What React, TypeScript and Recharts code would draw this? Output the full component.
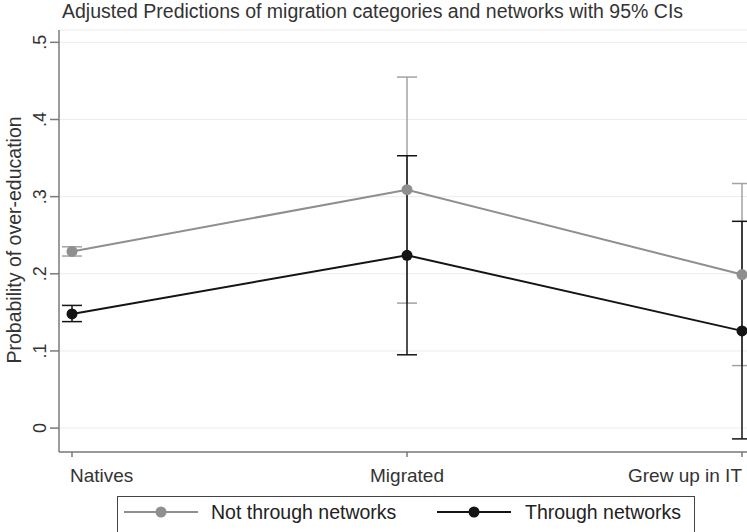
import React from 'react';
import { LineChart, Line, XAxis, YAxis, CartesianGrid, ErrorBar } from 'recharts';

const categories = ['Natives', 'Migrated', 'Grew up in IT'];

// point estimates and 95% CI bounds
const notThrough = [0.229, 0.309, 0.199];
const notThroughLo = [0.223, 0.162, 0.081];
const notThroughHi = [0.235, 0.455, 0.317];

const through = [0.148, 0.224, 0.126];
const throughLo = [0.138, 0.095, -0.014];
const throughHi = [0.159, 0.353, 0.268];

const yTicks = [0, 0.1, 0.2, 0.3, 0.4, 0.5];

const GRAY = '#8f8f8f';
const GRAY_CI = '#a3a3a3';
const BLACK = '#141414';
const AXIS = '#7a7a7a';
const FONT = 'Arial, "Liberation Sans", sans-serif';

const data = categories.map((cat, i) => ({
  cat,
  notThrough: notThrough[i],
  notThroughErr: [notThrough[i] - notThroughLo[i], notThroughHi[i] - notThrough[i]],
  through: through[i],
  throughErr: [through[i] - throughLo[i], throughHi[i] - through[i]],
}));

const fmtTick = (v: number) => (v === 0 ? '0' : String(v).replace(/^0/, ''));

function YTick(props: any) {
  const { x, y, payload } = props;
  const bx = x - 4;
  return (
    <text x={bx} y={y} transform={`rotate(-90, ${bx}, ${y})`} textAnchor="middle" fontSize={18} fill="#333" fontFamily={FONT}>
      {fmtTick(payload.value)}
    </text>
  );
}

function XTick(props: any) {
  const { x, y, payload, index } = props;
  const anchor = index === 0 ? 'start' : index === categories.length - 1 ? 'end' : 'middle';
  const dx = index === 0 ? -2 : 0;
  return (
    <text x={x + dx} y={y + 25} textAnchor={anchor} fontSize={19} fill="#333" fontFamily={FONT}>
      {payload.value}
    </text>
  );
}

function LegendItem({ color, label, left, textLeft }: { color: string; label: string; left: number; textLeft: number }) {
  return (
    <>
      <svg style={{ position: 'absolute', left, top: 8 }} width={75} height={14}>
        <line x1={0} y1={7} x2={74} y2={7} stroke={color} strokeWidth={2} />
        <circle cx={37} cy={7} r={5.5} fill={color} />
      </svg>
      <span style={{ position: 'absolute', left: textLeft, top: 4, fontSize: 19.5, color: '#222', fontFamily: FONT, whiteSpace: 'nowrap' }}>
        {label}
      </span>
    </>
  );
}

export default function App() {
  return (
    <div style={{ position: 'relative', width: 747, height: 532, overflow: 'hidden', background: '#fff' }}>
      <style>{'body{margin:0}'}</style>
      <div style={{ position: 'absolute', left: 62, top: 0, fontSize: 19.5, color: '#333', fontFamily: FONT, whiteSpace: 'nowrap' }}>
        Adjusted Predictions of migration categories and networks with 95% CIs
      </div>
      <svg style={{ position: 'absolute', left: 0, top: 0 }} width={30} height={532}>
        <text x={21} y={240} transform="rotate(-90, 21, 240)" textAnchor="middle" fontSize={19.5} fill="#333" fontFamily={FONT}>
          Probability of over-education
        </text>
      </svg>
      <div style={{ position: 'absolute', left: 0, top: 0 }}>
        <LineChart width={760} height={532} data={data} margin={{ top: 30, right: 5, bottom: 0, left: 0 }}>
          <CartesianGrid horizontal vertical={false} stroke="#ececec" strokeWidth={1} />
          <XAxis
            dataKey="cat"
            padding={{ left: 13, right: 13 }}
            height={80}
            axisLine={{ stroke: AXIS, strokeWidth: 1.5 }}
            tickLine={{ stroke: AXIS, strokeWidth: 1.5 }}
            tickSize={5}
            tickMargin={0}
            tick={<XTick />}
            interval={0}
          />
          <YAxis
            type="number"
            domain={[-0.031, 0.516]}
            ticks={yTicks}
            width={59}
            axisLine={{ stroke: AXIS, strokeWidth: 1.5 }}
            tickLine={{ stroke: AXIS, strokeWidth: 1.5 }}
            tickSize={9}
            tickMargin={0}
            tick={<YTick />}
            allowDataOverflow
          />
          {/* confidence intervals first, so markers and lines sit on top */}
          <Line dataKey="notThrough" stroke="transparent" dot={false} activeDot={false} legendType="none" isAnimationActive={false}>
            <ErrorBar dataKey="notThroughErr" width={10} stroke={GRAY_CI} strokeWidth={1.5} isAnimationActive={false} />
          </Line>
          <Line dataKey="through" stroke="transparent" dot={false} activeDot={false} legendType="none" isAnimationActive={false}>
            <ErrorBar dataKey="throughErr" width={10} stroke={BLACK} strokeWidth={1.5} isAnimationActive={false} />
          </Line>
          <Line
            dataKey="notThrough"
            stroke={GRAY}
            strokeWidth={2}
            dot={{ r: 5.5, fill: GRAY, stroke: GRAY, strokeWidth: 0 }}
            activeDot={false}
            isAnimationActive={false}
          />
          <Line
            dataKey="through"
            stroke={BLACK}
            strokeWidth={2}
            dot={{ r: 5.5, fill: BLACK, stroke: BLACK, strokeWidth: 0 }}
            activeDot={false}
            isAnimationActive={false}
          />
        </LineChart>
      </div>
      <div style={{ position: 'absolute', left: 117, top: 496, width: 578, height: 50, border: '1.5px solid #444', boxSizing: 'border-box' }}>
        <LegendItem color={GRAY} label="Not through networks" left={6} textLeft={93} />
        <LegendItem color={BLACK} label="Through networks" left={319} textLeft={407} />
      </div>
    </div>
  );
}
